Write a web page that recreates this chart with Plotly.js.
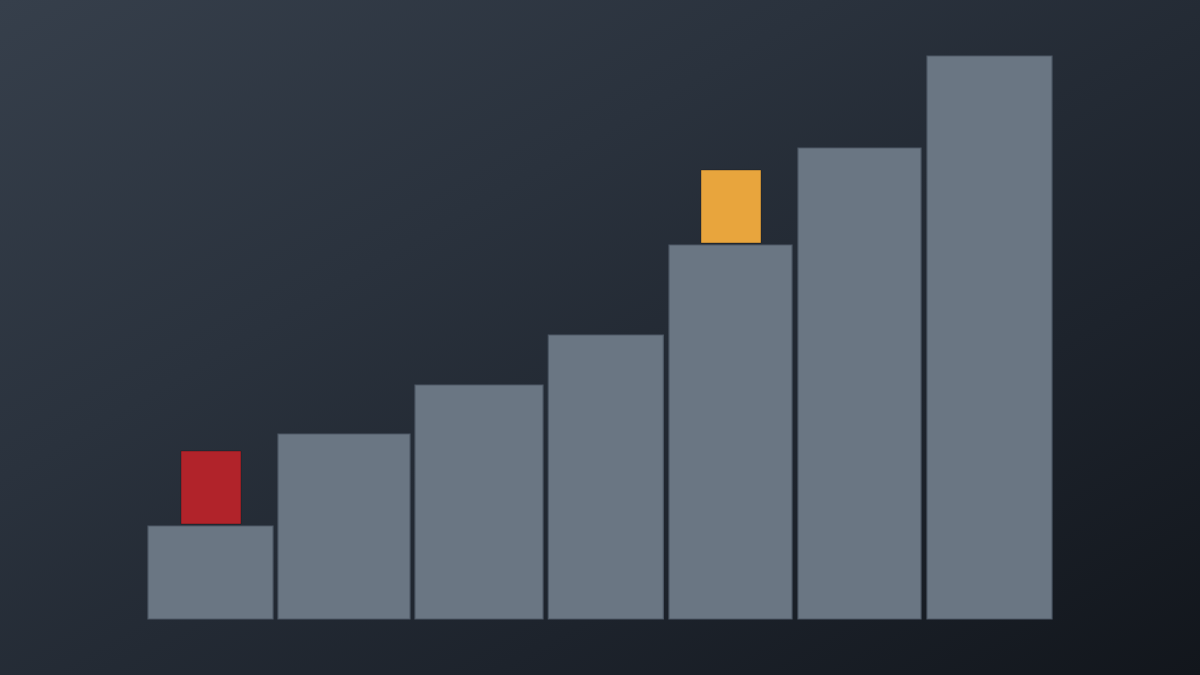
<!DOCTYPE html>
<html>
<head>
<meta charset="utf-8">
<script src="https://cdn.plot.ly/plotly-3.0.1.min.js"></script>
<style>
  html, body { margin: 0; padding: 0; }
  body {
    width: 1200px; height: 675px; overflow: hidden;
    background: linear-gradient(150deg, #363f4b 0%, #2a323d 35%, #1d232c 70%, #12161c 100%);
  }
  #chart { width: 1200px; height: 675px; }
</style>
</head>
<body>
<div id="chart"></div>
<script>
// stair bars: centre, width, height (baseline = 0)
var stepCenters = [210.5, 344, 479, 605.8, 730.5, 859.5, 989.5];
var stepWidths  = [125, 132, 128, 115, 123, 123, 125];
var stepHeights = [93, 185, 234, 284, 374, 471, 563];

// the two markers that sit on top of steps 1 and 5
var markCenters = [211, 731];
var markBases   = [95, 376];
var markHeights = [73, 73];
var markColors  = ['#b1232a', '#e8a53d'];

CHART = document.getElementById('chart');
layout = {
  width: 1200,
  height: 675,
  margin: {l: 0, r: 0, t: 0, b: 0},
  paper_bgcolor: 'rgba(0,0,0,0)',
  plot_bgcolor: 'rgba(0,0,0,0)',
  showlegend: false,
  barmode: 'overlay',
  xaxis: {range: [0, 1200], visible: false, fixedrange: true},
  yaxis: {range: [-56, 619], visible: false, fixedrange: true},
};
Plotly.newPlot(CHART, [
  {
    x: stepCenters,
    y: stepHeights,
    width: stepWidths,
    type: 'bar',
    marker: {color: '#6a7683', line: {color: '#4e5966', width: 1.2}},
    hoverinfo: 'none',
  },
  {
    x: markCenters,
    y: markHeights,
    base: markBases,
    width: [60, 60],
    type: 'bar',
    marker: {color: markColors, line: {color: 'rgba(20,20,20,0.35)', width: 1}},
    hoverinfo: 'none',
  }], layout, {displayModeBar: false, staticPlot: true});
</script>
</body>
</html>
